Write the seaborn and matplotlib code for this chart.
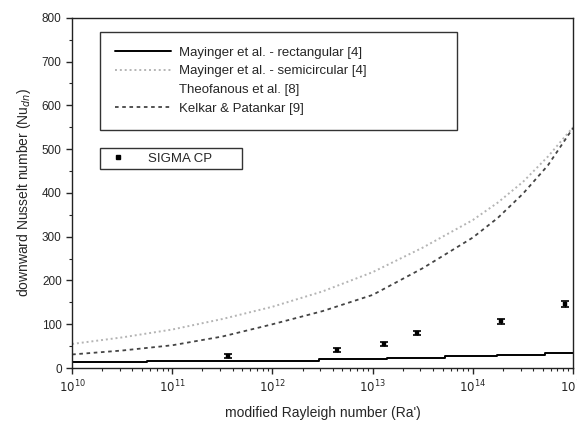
import numpy as np
import pandas as pd
import seaborn as sns
import matplotlib.pyplot as plt
from matplotlib.lines import Line2D

# curve points (Ra', Nu)
ra_curve = [1e10, 10**10.5, 1e11, 10**11.5, 1e12, 10**12.5, 1e13, 10**13.5,
            1e14, 10**14.25, 10**14.5, 10**14.75, 1e15]
nu_semicircular = [55, 70, 88, 112, 140, 175, 219, 275, 338, 378, 425, 483, 550]
nu_kelkar = [31, 40, 52, 72, 100, 130, 167, 228, 298, 343, 398, 463, 548]

# Mayinger rectangular, drawn as steps
ra_rect = [1e10, 10**10.75, 10**11.66, 10**12.46, 10**13.14, 10**13.72,
           10**14.24, 10**14.72, 1e15]
nu_rect = [13, 15, 17, 20, 23, 27, 30, 34, 35]

# SIGMA CP experiments
ra_sigma = [3.6e11, 4.4e12, 1.3e13, 2.8e13, 1.9e14, 8.3e14]
nu_sigma = [27, 41, 55, 80, 107, 147]
err_sigma = [4, 4, 5, 5, 6, 7]

sns.set_style("ticks")
plt.rcParams['font.family'] = ['Liberation Sans', 'DejaVu Sans']

fig = plt.figure(figsize=(5.77, 4.24), dpi=100)
ax = fig.add_axes([0.125, 0.132, 0.868, 0.826])

df = pd.DataFrame({'ra': ra_curve, 'semi': nu_semicircular, 'kelkar': nu_kelkar})
sns.lineplot(data=df, x='ra', y='semi', ax=ax, color='#b4b4b4', lw=1.4,
             linestyle=(0, (1, 1.5)), estimator=None)
sns.lineplot(data=df, x='ra', y='kelkar', ax=ax, color='#444444', lw=1.3,
             linestyle=(0, (2, 2)), estimator=None)
ax.step(ra_rect, nu_rect, where='post', color='black', lw=1.4)

ax.errorbar(ra_sigma, nu_sigma, yerr=err_sigma, fmt='none', ecolor='black',
            elinewidth=1, capsize=3, capthick=1.2)
sns.scatterplot(x=ra_sigma, y=nu_sigma, ax=ax, marker='s', s=12, color='black',
                edgecolor='black', zorder=5)

ax.set_xscale('log')
ax.set_xlim(1e10, 1e15)
ax.set_ylim(0, 800)
ax.set_yticks(range(0, 801, 100))
ax.set_yticks(range(50, 800, 100), minor=True)
ax.set_xticks([10**k for k in range(10, 16)])
ax.set_xticklabels([r'$10^{%d}$' % k for k in range(10, 16)])
ax.tick_params(axis='both', which='major', labelsize=8.5, length=4, width=1, direction='out')
ax.tick_params(axis='both', which='minor', length=2.5, width=0.8, direction='out')
for sp in ax.spines.values():
    sp.set_linewidth(1)
    sp.set_color('#222222')

ax.set_xlabel("modified Rayleigh number (Ra')", fontsize=10, labelpad=8)
ax.set_ylabel(r'downward Nusselt number (Nu$_{dn}$)', fontsize=10, labelpad=6)

handles1 = [
    Line2D([], [], color='black', lw=1.4),
    Line2D([], [], color='#b4b4b4', lw=1.4, linestyle=(0, (1, 1.5))),
    Line2D([], [], color='none'),
    Line2D([], [], color='#444444', lw=1.3, linestyle=(0, (2, 2))),
]
labels1 = ['Mayinger et al. - rectangular [4]', 'Mayinger et al. - semicircular [4]',
           'Theofanous et al. [8]', 'Kelkar & Patankar [9]']
leg1 = ax.legend(handles1, labels1, loc='upper left',
                 bbox_to_anchor=(0.056, 0.674, 0.713, 0.286), mode='expand',
                 fontsize=9.5, frameon=True, fancybox=False, edgecolor='black',
                 borderpad=1.1, labelspacing=0.5, handlelength=4.3,
                 handletextpad=0.6, borderaxespad=0)
leg1.get_frame().set_linewidth(1)
ax.add_artist(leg1)

handles2 = [Line2D([], [], color='none', marker='s', markersize=3,
                   markerfacecolor='black', markeredgecolor='black')]
leg2 = ax.legend(handles2, ['SIGMA CP'], loc='upper left',
                 bbox_to_anchor=(0.056, 0.563, 0.283, 0.066), mode='expand',
                 fontsize=9.5, frameon=True, fancybox=False, edgecolor='black',
                 borderpad=0.35, handlelength=2, handletextpad=1.3, borderaxespad=0)
leg2.get_frame().set_linewidth(1)

fig.savefig('out.png', dpi=100)
